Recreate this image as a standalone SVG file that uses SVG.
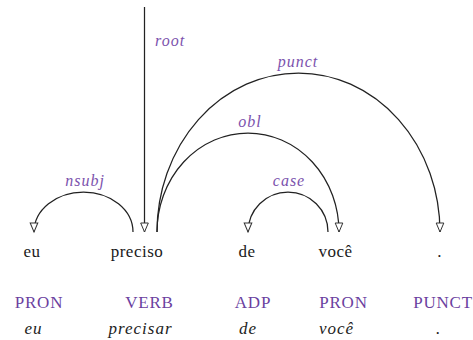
<svg xmlns="http://www.w3.org/2000/svg" width="473" height="340" viewBox="0 0 473 340">
  <style>
    text { font-family: "Liberation Serif", "Times New Roman", serif; text-anchor: middle; }
    .word { font-size: 17px; letter-spacing: 0.5px; fill: #1a1a1a; }
    .pos { font-size: 17px; letter-spacing: 0.8px; fill: #6b3fa0; }
    .lemma { font-size: 17px; letter-spacing: 1px; font-style: italic; fill: #222; }
    .rel { font-size: 16px; letter-spacing: 1px; font-style: italic; fill: #7b52ad; }
    .arc { fill: none; stroke: #222; stroke-width: 1.25; }
  </style>
  <defs>
    <marker id="head" markerUnits="userSpaceOnUse" markerWidth="12" markerHeight="10" viewBox="-10 -5 11 10" refX="0" refY="0" orient="auto">
      <path d="M0,0 L-9,-3.8 L-9,3.8 Z" fill="#fff" stroke="#333" stroke-width="1"/>
    </marker>
  </defs>

  <!-- dependency arcs with their relation labels -->
  <g id="connectors">
    <path id="root" class="arc" d="M144.5,7 L144.5,232" marker-end="url(#head)"/>
    <path id="nsubj" class="arc" d="M133,232 A49.5,40 0 0 0 34,232" marker-end="url(#head)"/>
    <path id="case" class="arc" d="M328,232 A40,40 0 0 0 248,232" marker-end="url(#head)"/>
    <path id="obl" class="arc" d="M157,232 A91,99 0 0 1 339,232" marker-end="url(#head)"/>
    <path id="punct" class="arc" d="M157,232 A141.5,159 0 0 1 440,232" marker-end="url(#head)"/>
    <text class="rel" x="155" y="46" style="text-anchor:start">root</text>
    <text class="rel" x="85" y="186">nsubj</text>
    <text class="rel" x="289" y="186">case</text>
    <text class="rel" x="250" y="127">obl</text>
    <text class="rel" x="298" y="67">punct</text>
  </g>

  <!-- tokens: form, part of speech, lemma -->
  <g id="tok-eu">
    <text class="word" x="32" y="257">eu</text>
    <text class="pos" x="39" y="308">PRON</text>
    <text class="lemma" x="33.5" y="334">eu</text>
  </g>
  <g id="tok-preciso">
    <text class="word" x="137" y="257">preciso</text>
    <text class="pos" x="149.5" y="308">VERB</text>
    <text class="lemma" x="140.5" y="334">precisar</text>
  </g>
  <g id="tok-de">
    <text class="word" x="247" y="257">de</text>
    <text class="pos" x="253" y="308">ADP</text>
    <text class="lemma" x="248" y="334">de</text>
  </g>
  <g id="tok-voce">
    <text class="word" x="335.5" y="257">você</text>
    <text class="pos" x="343.5" y="308">PRON</text>
    <text class="lemma" x="336.5" y="334">você</text>
  </g>
  <g id="tok-punct">
    <text class="word" x="439.5" y="257">.</text>
    <text class="pos" x="443" y="308">PUNCT</text>
    <text class="lemma" x="438.5" y="334">.</text>
  </g>
</svg>
